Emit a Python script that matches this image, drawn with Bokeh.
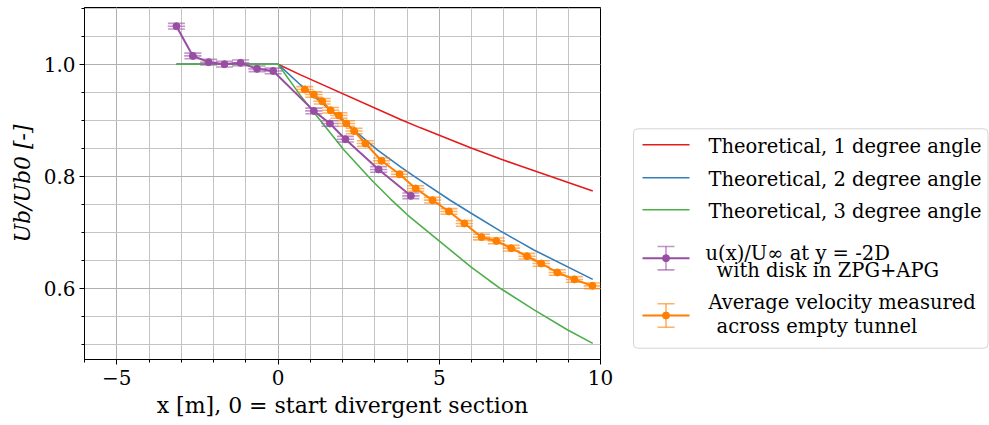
from bokeh.plotting import figure
from bokeh.layouts import row
from bokeh.models import (Range1d, SingleIntervalTicker, CustomJSTickFormatter,
                          Whisker, TeeHead, ColumnDataSource)
from bokeh.embed import file_html
from bokeh.resources import INLINE
from bokeh.core.properties import value

# ---------------- data ----------------
theory1_x = [-3.15, 0.0, 0.70, 3.80, 4.42, 5.97, 6.90, 7.52, 9.76]
theory1_y = [1.0, 1.0, 0.981, 0.9014, 0.8866, 0.8512, 0.8313, 0.8185, 0.774]

theory2_x = [-3.15, 0.0, 0.70, 3.08, 3.80, 4.26, 5.35, 5.99, 6.90, 7.52, 7.92, 9.76]
theory2_y = [1.0, 1.0, 0.963, 0.8474, 0.817, 0.7988, 0.7572, 0.7345, 0.7027, 0.6826, 0.6695, 0.6167]

theory3_x = [-3.15, 0.0, 0.70, 2.04, 2.90, 3.49, 3.80, 4.01, 5.99, 6.54, 6.90, 7.93, 8.97, 9.76]
theory3_y = [1.0, 1.0, 0.944, 0.8475, 0.7938, 0.7598, 0.7431, 0.7318, 0.6385, 0.6152, 0.6004, 0.5628, 0.527, 0.5028]

disk_x = [-3.15, -2.64, -2.15, -1.66, -1.16, -0.65, -0.15, 1.11, 1.61, 2.09, 3.12, 4.12]
disk_y = [1.0677, 1.0148, 1.0036, 1.0, 1.0024, 0.9917, 0.988, 0.9168, 0.8944, 0.8664, 0.8125, 0.7655]

empty_x = [0.83, 1.11, 1.37, 1.63, 1.89, 2.12, 2.36, 2.71, 3.21, 3.77, 4.27, 4.79,
           5.30, 5.78, 6.31, 6.77, 7.23, 7.72, 8.16, 8.66, 9.19, 9.75]
empty_y = [0.955, 0.946, 0.934, 0.918, 0.9086, 0.8944, 0.881, 0.8587, 0.828, 0.804, 0.7786, 0.7578,
           0.7377, 0.7163, 0.692, 0.6853, 0.6723, 0.658, 0.645, 0.629, 0.6166, 0.6052]

x_err = 0.27     # half width of the horizontal error bars [m]
y_err = 0.005    # half height of the vertical error bars [-]

x_ticks_major = 5
y_ticks_major = 0.2

legend_labels = [
    "Theoretical, 1 degree angle",
    "Theoretical, 2 degree angle",
    "Theoretical, 3 degree angle",
    ["u(x)/U\u221e at y = -2D", "with disk in ZPG+APG"],
    ["Average velocity measured", "across empty tunnel"],
]

RED, BLUE, GREEN, PURPLE, ORANGE = "#e41a1c", "#377eb8", "#4daf4a", "#984ea3", "#ff7f00"
FONT = "DejaVu Serif"

# frame placement in page pixels
FR_TOP, FR_BOTTOM = 7, 359
FIG_H = 425

# ---------------- main plot ----------------
p = figure(width=625, height=FIG_H, x_range=Range1d(-6, 10), y_range=Range1d(0.474, 1.101),
           output_backend="svg", toolbar_location=None,
           min_border_left=84, min_border_right=25, min_border_top=FR_TOP,
           min_border_bottom=FIG_H - FR_BOTTOM)

p.line(theory1_x, theory1_y, line_color=RED, line_width=1.6)
p.line(theory2_x, theory2_y, line_color=BLUE, line_width=1.6)
p.line(theory3_x, theory3_y, line_color=GREEN, line_width=1.6)


def errorbar(xs, ys, color):
    src = ColumnDataSource(dict(
        x=xs, y=ys,
        x0=[v - x_err for v in xs], x1=[v + x_err for v in xs],
        yl=[v - y_err for v in ys], yu=[v + y_err for v in ys]))
    p.line("x", "y", source=src, line_color=color, line_width=2)
    p.segment(x0="x0", x1="x1", y0="y", y1="y", source=src,
              line_color=color, line_width=1.6, line_alpha=0.6)
    w = Whisker(source=src, base="x", lower="yl", upper="yu", dimension="height",
                line_color=color, line_alpha=0.6, line_width=1.6, level="glyph",
                lower_head=TeeHead(size=17, line_color=color, line_alpha=0.6, line_width=1.6),
                upper_head=TeeHead(size=17, line_color=color, line_alpha=0.6, line_width=1.6))
    p.add_layout(w)
    p.scatter("x", "y", source=src, size=7, fill_color=color, line_color=color)


errorbar(disk_x, disk_y, PURPLE)
errorbar(empty_x, empty_y, ORANGE)

p.xaxis.ticker = SingleIntervalTicker(interval=x_ticks_major, num_minor_ticks=5)
p.yaxis.ticker = SingleIntervalTicker(interval=y_ticks_major, num_minor_ticks=4)
p.xaxis.formatter = CustomJSTickFormatter(
    code="return (tick < 0 ? '\\u2212' : '') + Math.abs(tick).toFixed(0);")
p.yaxis.formatter = CustomJSTickFormatter(code="return tick.toFixed(1);")

for ax in (p.xaxis, p.yaxis):
    ax.axis_line_color = "black"
    ax.major_tick_line_color = "black"
    ax.minor_tick_line_color = "black"
    ax.major_tick_in = 0
    ax.major_tick_out = 5
    ax.minor_tick_in = 0
    ax.minor_tick_out = 3
    ax.major_label_text_font = FONT
    ax.major_label_text_font_size = "20px"
    ax.major_label_text_color = "black"
    ax.axis_label_text_font = FONT
    ax.axis_label_text_font_size = "22px"
    ax.axis_label_text_color = "black"

p.xaxis.axis_label = "x [m], 0 = start divergent section"
p.xaxis.axis_label_text_font_style = "normal"
p.xaxis.major_label_standoff = 5
p.xaxis.axis_label_standoff = 5
p.yaxis.axis_label = "Ub/Ub0 [-]"
p.yaxis.axis_label_text_font_style = "italic"
p.yaxis.major_label_standoff = 4
p.yaxis.axis_label_standoff = 6

for g in (p.xgrid, p.ygrid):
    g.grid_line_color = "#b0b0b0"
    g.grid_line_width = 1
    g.minor_grid_line_color = "#c4c4c4"
    g.minor_grid_line_width = 1

p.outline_line_color = "black"
p.outline_line_width = 1
p.background_fill_color = "white"
p.border_fill_color = "white"

# ---------------- legend (drawn in page pixel coordinates) ----------------
lg = figure(width=364, height=FIG_H, x_range=Range1d(625, 989), y_range=Range1d(FR_BOTTOM, FR_TOP),
            output_backend="svg", toolbar_location=None,
            min_border_left=0, min_border_right=0, min_border_top=FR_TOP,
            min_border_bottom=FIG_H - FR_BOTTOM)
lg.axis.visible = False
lg.grid.visible = False
lg.outline_line_color = None
lg.border_fill_color = "white"
lg.background_fill_color = "white"

lg.quad(left=[633], right=[987.5], top=[128.3], bottom=[347.7], fill_color="white", fill_alpha=0.8,
        line_color="#d4d4d4", line_width=1, border_radius=4)

hx0, hx1 = 642, 689
hxm = (hx0 + hx1) / 2
for yy, col in ((144.3, RED), (177.3, BLUE), (209.3, GREEN)):
    lg.line([hx0, hx1], [yy, yy], line_color=col, line_width=1.6)

for yc, col in ((257.7, PURPLE), (315.0, ORANGE)):
    lg.line([hx0, hx1], [yc, yc], line_color=col, line_width=2)
    lg.segment(x0=[hxm], x1=[hxm], y0=[yc - 11.7], y1=[yc + 11.7],
               line_color=col, line_alpha=0.6, line_width=1.6)
    lg.segment(x0=[hxm - 8.5, hxm - 8.5], x1=[hxm + 8.5, hxm + 8.5],
               y0=[yc - 11.7, yc + 11.7], y1=[yc - 11.7, yc + 11.7],
               line_color=col, line_alpha=0.6, line_width=1.6)
    lg.scatter([hxm], [yc], size=7, fill_color=col, line_color=col)

tx = [708, 708, 708, 705, 716, 708, 716]
ty = [146.3, 178.7, 211.3, 252.5, 269.7, 302.3, 326.3]
tt = [legend_labels[0], legend_labels[1], legend_labels[2],
      legend_labels[3][0], legend_labels[3][1], legend_labels[4][0], legend_labels[4][1]]
lg.text(x=tx, y=ty, text=tt, text_font=value(FONT), text_font_size="19.5px",
        text_baseline="alphabetic", text_align="left", text_color="black")

layout = row(p, lg)
open("out.html", "w").write(file_html(layout, INLINE))
